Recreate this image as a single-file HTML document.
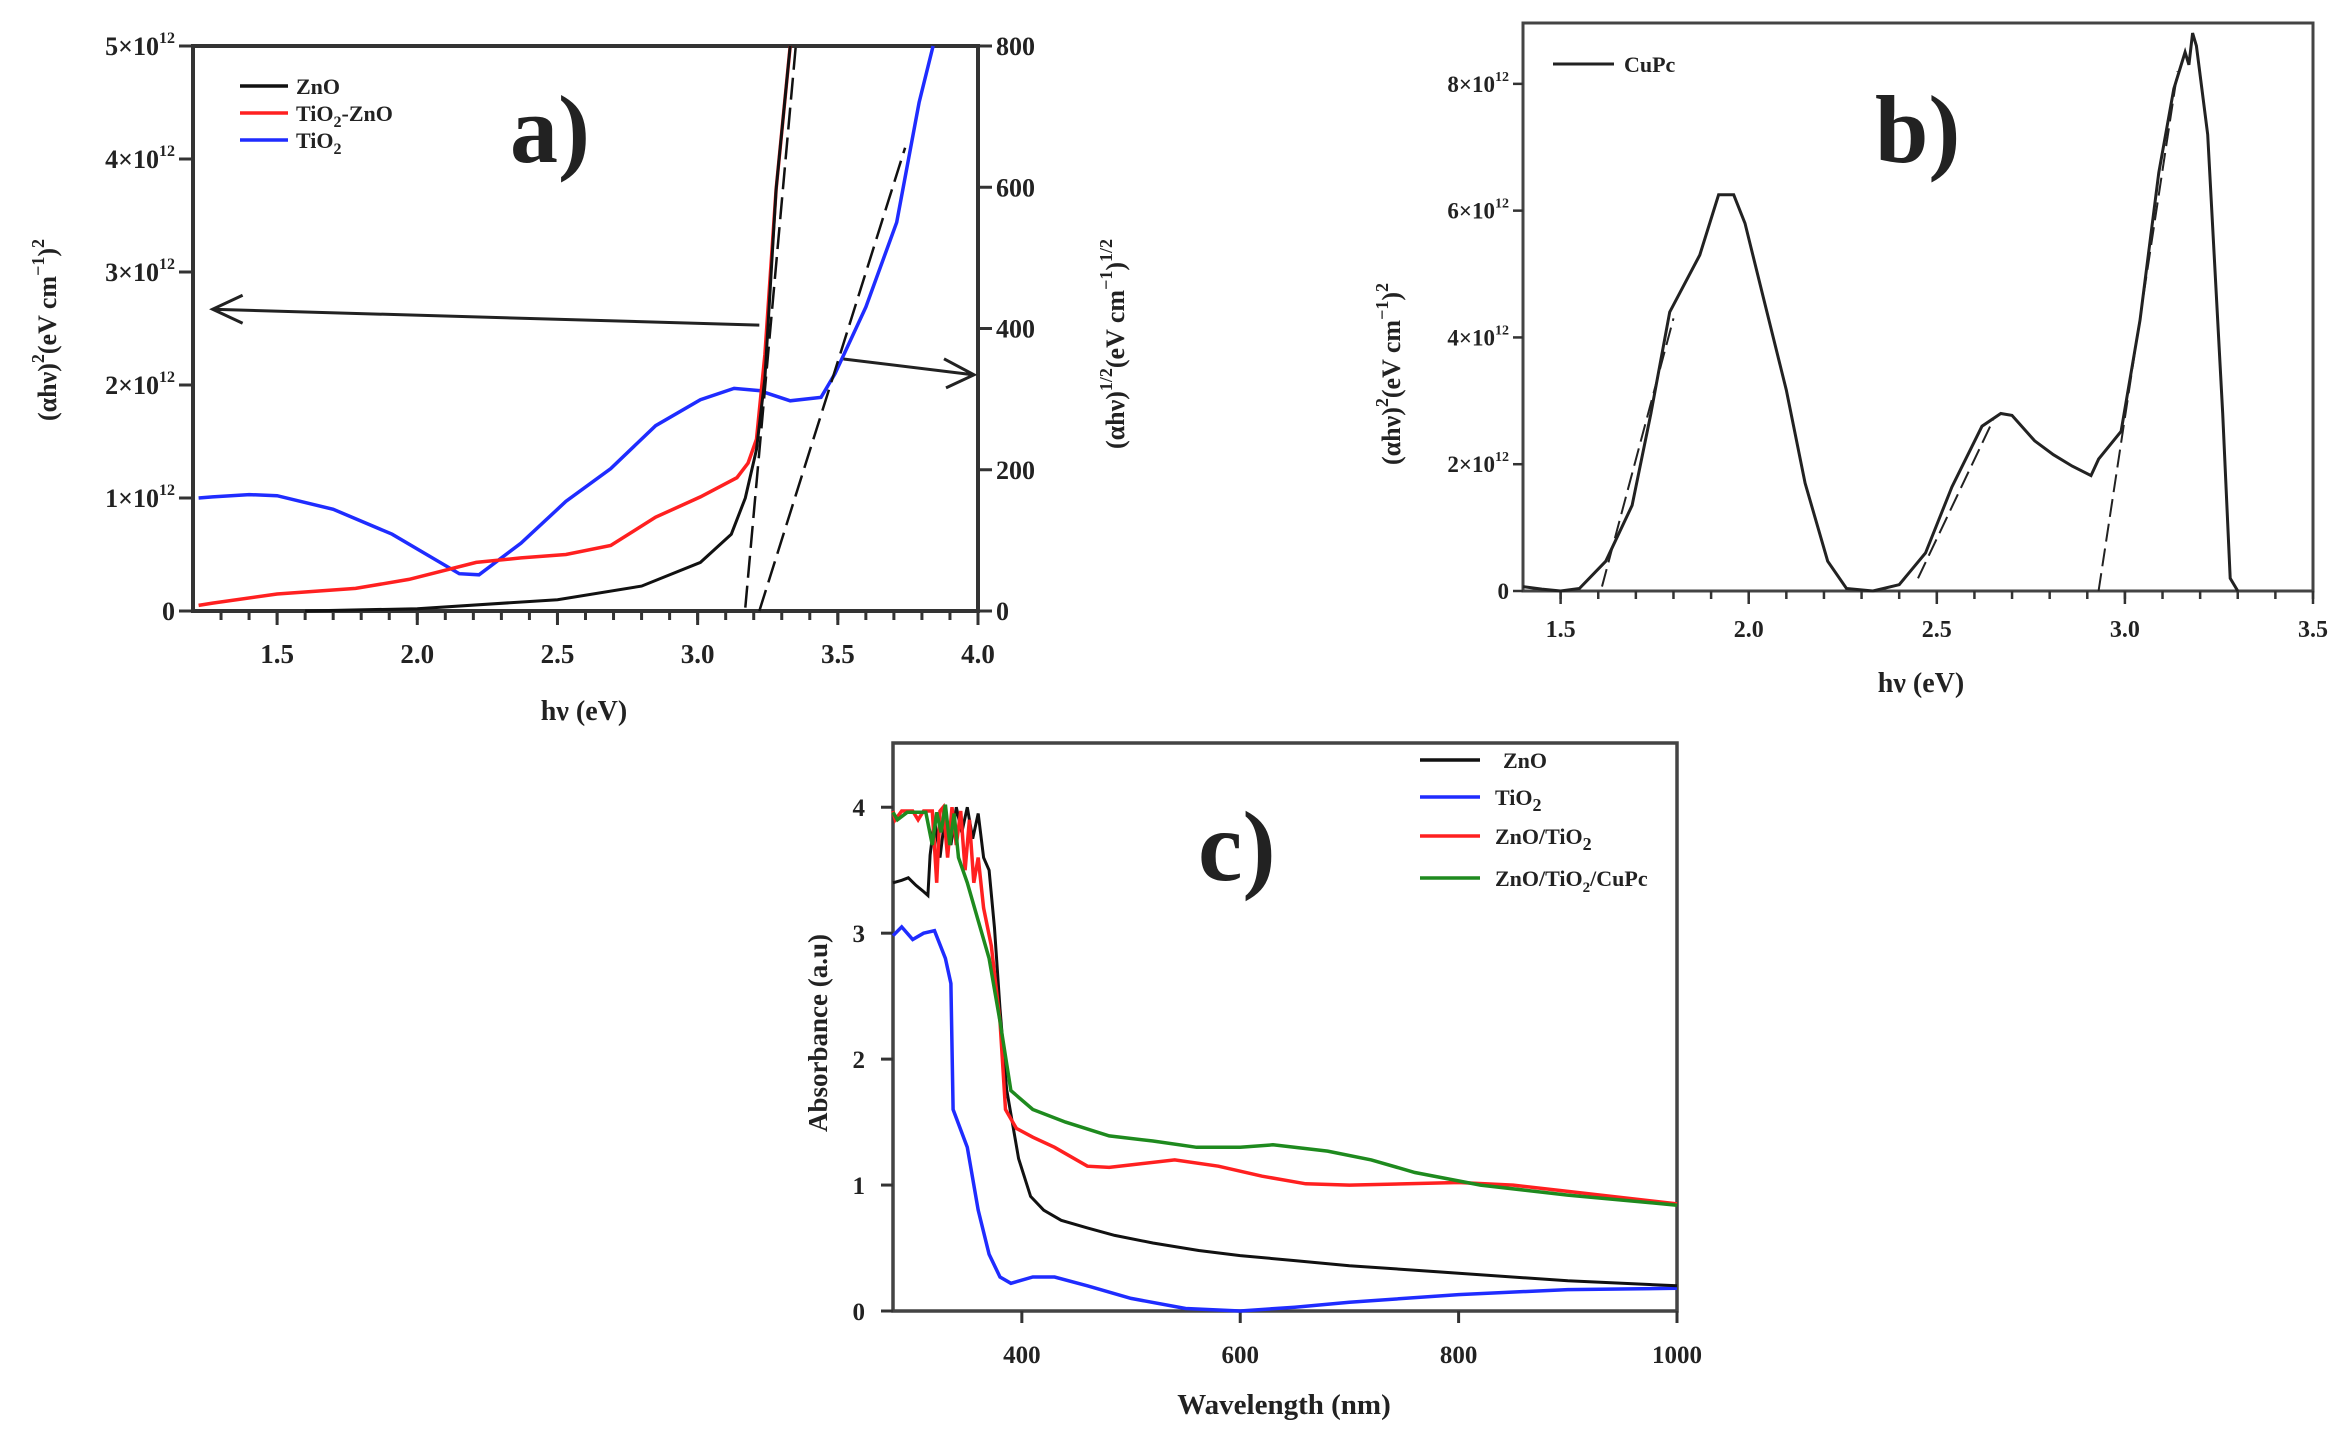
<!DOCTYPE html>
<html><head><meta charset="utf-8">
<style>
html,body{margin:0;padding:0;background:#fff;}
svg{display:block;}
text{font-family:"Liberation Serif",serif;font-weight:bold;fill:#222;}
</style></head>
<body>
<svg id="fig" width="2348" height="1443" viewBox="0 0 2348 1443" xmlns="http://www.w3.org/2000/svg"></svg>
<script>
// ---------- Panel a data (left-axis units of 1e12) ----------
const aZnOx = [1.6,2.0,2.5,2.8,3.01,3.12,3.17,3.21,3.24,3.28,3.33];
const aZnOy = [0,0.02,0.1,0.22,0.43,0.68,1.0,1.43,2.06,3.73,5.0];
const aMixx = [1.22,1.27,1.5,1.78,1.97,2.21,2.37,2.53,2.69,2.85,3.01,3.14,3.18,3.21,3.24,3.28,3.33];
const aMixy = [0.05,0.07,0.15,0.2,0.28,0.43,0.47,0.5,0.58,0.83,1.01,1.18,1.31,1.52,2.27,3.73,5.0];
const aTiox = [1.22,1.27,1.4,1.5,1.7,1.91,2.15,2.22,2.37,2.53,2.69,2.85,3.01,3.13,3.22,3.33,3.44,3.49,3.6,3.71,3.79,3.84];
const aTioy = [1.0,1.01,1.03,1.02,0.9,0.68,0.33,0.32,0.6,0.97,1.26,1.64,1.87,1.97,1.95,1.86,1.89,2.1,2.69,3.44,4.5,5.0];
const aXTicks = [1.5,2.0,2.5,3.0,3.5,4.0];
const aYTicks = [0,1,2,3,4,5];
const aRTicks = [0,200,400,600,800];
// ---------- Panel b data (units of 1e12) ----------
const bx = [1.4,1.45,1.5,1.55,1.62,1.69,1.74,1.79,1.87,1.92,1.96,1.99,2.04,2.1,2.15,2.21,2.26,2.33,2.4,2.47,2.54,2.62,2.67,2.7,2.76,2.81,2.86,2.91,2.93,2.99,3.04,3.09,3.13,3.16,3.17,3.18,3.19,3.22,3.26,3.28,3.3];
const by = [0.07,0.03,0,0.04,0.47,1.35,2.8,4.4,5.3,6.25,6.25,5.8,4.6,3.17,1.7,0.47,0.04,0,0.1,0.6,1.64,2.6,2.8,2.77,2.37,2.15,1.97,1.82,2.08,2.52,4.27,6.6,7.92,8.5,8.3,8.8,8.6,7.2,2.8,0.2,0];
const bXTicks = [1.5,2.0,2.5,3.0,3.5];
const bYTicks = [0,2,4,6,8];
// ---------- Panel c data ----------
const cZnOx = [282,290,296,303,310,314,316,320,325,330,335,340,345,350,355,360,365,370,375,380,386,397,408,420,436,460,485,520,562,600,650,700,800,900,1000];
const cZnOy = [3.4,3.42,3.44,3.38,3.33,3.3,3.62,3.9,3.6,3.95,3.7,4.0,3.8,4.0,3.75,3.95,3.6,3.5,3.04,2.4,1.76,1.21,0.91,0.8,0.72,0.66,0.6,0.54,0.48,0.44,0.4,0.36,0.3,0.24,0.2];
const cTiOx = [282,290,300,310,320,330,335,337,350,360,370,380,390,410,430,460,500,550,600,650,700,800,900,1000];
const cTiOy = [2.98,3.05,2.95,3.0,3.02,2.8,2.6,1.6,1.3,0.8,0.45,0.27,0.22,0.27,0.27,0.2,0.1,0.02,0.0,0.03,0.07,0.13,0.17,0.18];
const cMixx = [282,284,290,300,305,310,318,322,325,328,332,336,340,344,348,352,356,360,365,372,380,385,395,410,430,460,480,500,540,580,620,660,700,800,850,900,1000];
const cMixy = [3.97,3.9,3.97,3.97,3.9,3.97,3.97,3.4,3.97,4.0,3.6,4.0,3.7,3.97,3.5,3.9,3.4,3.6,3.2,2.9,2.3,1.6,1.45,1.38,1.3,1.15,1.14,1.16,1.2,1.15,1.07,1.01,1.0,1.02,1.0,0.95,0.85];
const cGrnx = [282,286,295,305,312,318,322,326,330,334,338,342,350,360,370,380,390,410,440,480,520,560,600,630,680,720,760,820,900,1000];
const cGrny = [3.96,3.9,3.96,3.96,3.96,3.7,3.96,3.8,4.02,3.7,3.95,3.6,3.4,3.1,2.8,2.3,1.75,1.6,1.5,1.39,1.35,1.3,1.3,1.32,1.27,1.2,1.1,1.0,0.92,0.84];
const cXTicks = [400,600,800,1000];
const cYTicks = [0,1,2,3,4];

const NS = "http://www.w3.org/2000/svg";
const svg = document.getElementById('fig');
function el(tag, attrs, parent){ const e=document.createElementNS(NS,tag); for(const k in attrs) e.setAttribute(k,attrs[k]); (parent||svg).appendChild(e); return e; }
function lin(d0,d1,r0,r1){ return v => r0 + (v-d0)/(d1-d0)*(r1-r0); }
function pathOf(xs,ys,sx,sy){ return xs.map((x,i)=>(i?'L':'M')+sx(x).toFixed(1)+','+sy(ys[i]).toFixed(1)).join(' '); }

// ================= Panel a =================
const aL=193,aR=978,aT=46,aB=611;
const ax = lin(1.2,4.0,aL,aR), ay = lin(0,5,aB,aT), ayR = lin(0,800,aB,aT);
const gA = el('g',{});


el('rect',{x:aL,y:aT,width:aR-aL,height:aB-aT,fill:'none',stroke:'#333','stroke-width':4},gA);
for(let v=1.3; v<=4.001; v+=0.1){ const X=ax(v); el('line',{x1:X,y1:aB,x2:X,y2:aB+9,stroke:'#333','stroke-width':3},gA); }
aXTicks.forEach(v=>{ const X=ax(v); el('line',{x1:X,y1:aB,x2:X,y2:aB+14,stroke:'#333','stroke-width':3},gA);
  const t=el('text',{x:X,y:aB+52,'font-size':27,'text-anchor':'middle'},gA); t.textContent=v.toFixed(1);
    });
aYTicks.forEach(v=>{ const Y=ay(v); el('line',{x1:aL-14,y1:Y,x2:aL,y2:Y,stroke:'#333','stroke-width':3},gA);
  const t=el('text',{x:aL-18,y:Y+9,'font-size':26,'text-anchor':'end'},gA);
  if(v===0){ t.textContent='0'; } else { t.textContent=v+'×10'; const s=el('tspan',{dy:-12,'font-size':16},t); s.textContent='12'; }
    });
aRTicks.forEach(v=>{ const Y=ayR(v); el('line',{x1:aR,y1:Y,x2:aR+14,y2:Y,stroke:'#333','stroke-width':3},gA);
  const t=el('text',{x:aR+18,y:Y+9,'font-size':26},gA); t.textContent=v;
    });
let p;
p=el('path',{d:pathOf(aTiox,aTioy,ax,ay),fill:'none',stroke:'#1f2cff','stroke-width':3.5},gA);
 
p=el('path',{d:pathOf(aMixx,aMixy,ax,ay),fill:'none',stroke:'#ff2020','stroke-width':3.5},gA);
 
p=el('path',{d:pathOf(aZnOx,aZnOy,ax,ay),fill:'none',stroke:'#111','stroke-width':3},gA);
 
p=el('line',{x1:ax(3.17),y1:ay(0.03),x2:ax(3.35),y2:ay(5),stroke:'#111','stroke-width':2.5,'stroke-dasharray':'22,8'},gA);
 
p=el('line',{x1:ax(3.22),y1:ay(0),x2:ax(3.74),y2:ay(4.1),stroke:'#111','stroke-width':2.5,'stroke-dasharray':'22,8'},gA);
 
p=el('path',{d:`M${ax(3.22)},${ay(2.53)} L${ax(1.27)},${ay(2.67)} M${ax(1.27)+30},${ay(2.67)-14} L${ax(1.27)},${ay(2.67)} L${ax(1.27)+30},${ay(2.67)+14}`,fill:'none',stroke:'#222','stroke-width':3},gA);
 
p=el('path',{d:`M${ax(3.52)},${ay(2.23)} L${aR-4},${ay(2.09)} M${aR-34},${ay(2.09)-16} L${aR-4},${ay(2.09)} L${aR-32},${ay(2.09)+13}`,fill:'none',stroke:'#222','stroke-width':3},gA);
 
[['ZnO','#111'],['TiO2-ZnO','#ff2020'],['TiO2','#1f2cff']].forEach((e,i)=>{
  const Y=86+i*27;
  const l=el('line',{x1:240,y1:Y,x2:288,y2:Y,stroke:e[1],'stroke-width':3.5},gA);
   
  const t=el('text',{x:296,y:Y+8,'font-size':22},gA);
   
  if(i===0) t.textContent='ZnO';
  else if(i===1){ t.textContent='TiO'; const s=el('tspan',{dy:6,'font-size':16},t); s.textContent='2'; const s2=el('tspan',{dy:-6},t); s2.textContent='-ZnO'; }
  else { t.textContent='TiO'; const s=el('tspan',{dy:6,'font-size':16},t); s.textContent='2'; }
});
let t;
t=el('text',{x:510,y:162,'font-size':96,'font-family':'"Liberation Sans",sans-serif'},gA); t.textContent='a)';
 
t=el('text',{x:584,y:720,'font-size':28,'text-anchor':'middle'},gA); t.textContent='hν (eV)';
 
t=el('text',{x:0,y:0,'font-size':26,'text-anchor':'middle',transform:'translate(56,330) rotate(-90)'},gA);
t.innerHTML='(αhν)<tspan dy="-12" font-size="18">2</tspan><tspan dy="12">(eV cm</tspan><tspan dy="-12" font-size="18">−1</tspan><tspan dy="12">)</tspan><tspan dy="-12" font-size="18">2</tspan>';
 
t=el('text',{x:0,y:0,'font-size':26,'text-anchor':'middle',transform:'translate(1124,344) rotate(-90)'},gA);
t.innerHTML='(αhν)<tspan dy="-12" font-size="18">1/2</tspan><tspan dy="12">(eV cm</tspan><tspan dy="-12" font-size="18">−1</tspan><tspan dy="12">)</tspan><tspan dy="-12" font-size="18">1/2</tspan>';
 

// ================= Panel b =================
const bL=1523,bR=2313,bT=23,bB=591;
const bxs = lin(1.4,3.5,bL,bR), bys = lin(0,8.96,bB,bT);
const gB = el('g',{});


el('rect',{x:bL,y:bT,width:bR-bL,height:bB-bT,fill:'none',stroke:'#444','stroke-width':3},gB);
for(let v=1.5; v<=3.501; v+=0.1){ const X=bxs(v); el('line',{x1:X,y1:bB,x2:X,y2:bB+8,stroke:'#333','stroke-width':2.5},gB); }
bXTicks.forEach(v=>{ const X=bxs(v); el('line',{x1:X,y1:bB,x2:X,y2:bB+13,stroke:'#333','stroke-width':2.5},gB);
  const t=el('text',{x:X,y:bB+46,'font-size':24,'text-anchor':'middle'},gB); t.textContent=v.toFixed(1);
    });
bYTicks.forEach(v=>{ const Y=bys(v); el('line',{x1:bL-10,y1:Y,x2:bL,y2:Y,stroke:'#333','stroke-width':2.5},gB);
  const t=el('text',{x:bL-14,y:Y+8,'font-size':23,'text-anchor':'end'},gB);
  if(v===0){ t.textContent='0'; } else { t.textContent=v+'×10'; const s=el('tspan',{dy:-11,'font-size':14},t); s.textContent='12'; }
    });
p=el('path',{d:pathOf(bx,by,bxs,bys),fill:'none',stroke:'#222','stroke-width':3},gB);
 
[[1.61,0.07,1.8,4.3],[2.45,0.2,2.65,2.7],[2.93,0.0,3.14,8.2]].forEach(f=>{
  const l=el('line',{x1:bxs(f[0]),y1:bys(f[1]),x2:bxs(f[2]),y2:bys(f[3]),stroke:'#222','stroke-width':2,'stroke-dasharray':'18,7'},gB);
    });
p=el('line',{x1:1553,y1:64,x2:1614,y2:64,stroke:'#222','stroke-width':3},gB);
 
t=el('text',{x:1624,y:72,'font-size':22},gB); t.textContent='CuPc';
 
t=el('text',{x:1875,y:162,'font-size':96,'font-family':'"Liberation Sans",sans-serif'},gB); t.textContent='b)';
 
t=el('text',{x:1921,y:692,'font-size':28,'text-anchor':'middle','font-weight':'normal'},gB); t.textContent='hν (eV)';
 
t=el('text',{x:0,y:0,'font-size':26,'text-anchor':'middle',transform:'translate(1400,374) rotate(-90)'},gB);
t.innerHTML='(αhν)<tspan dy="-12" font-size="18">2</tspan><tspan dy="12">(eV cm</tspan><tspan dy="-12" font-size="18">−1</tspan><tspan dy="12">)</tspan><tspan dy="-12" font-size="18">2</tspan>';
 

// ================= Panel c =================
const cL=893,cR=1677,cT=743,cB=1311;
const cxs = lin(282,1000,cL,cR), cys = lin(0,4.51,cB,cT);
const gC = el('g',{});


el('rect',{x:cL,y:cT,width:cR-cL,height:cB-cT,fill:'none',stroke:'#444','stroke-width':3.5},gC);
cXTicks.forEach(v=>{ const X=cxs(v); el('line',{x1:X,y1:cB,x2:X,y2:cB+12,stroke:'#333','stroke-width':3},gC);
  const t=el('text',{x:X,y:cB+52,'font-size':25,'text-anchor':'middle'},gC); t.textContent=v;
    });
cYTicks.forEach(v=>{ const Y=cys(v); el('line',{x1:cL-12,y1:Y,x2:cL,y2:Y,stroke:'#333','stroke-width':3},gC);
  const t=el('text',{x:cL-28,y:Y+9,'font-size':25,'text-anchor':'end'},gC); t.textContent=v;
    });
p=el('path',{d:pathOf(cTiOx,cTiOy,cxs,cys),fill:'none',stroke:'#1f2cff','stroke-width':3.5},gC);
 
p=el('path',{d:pathOf(cZnOx,cZnOy,cxs,cys),fill:'none',stroke:'#111','stroke-width':3},gC);
 
p=el('path',{d:pathOf(cMixx,cMixy,cxs,cys),fill:'none',stroke:'#ff2020','stroke-width':3.5},gC);
 
p=el('path',{d:pathOf(cGrnx,cGrny,cxs,cys),fill:'none',stroke:'#1e8a1e','stroke-width':3.5},gC);
 
[['ZnO','#111',''],['TiO','#1f2cff','2'],['ZnO/TiO','#ff2020','2'],['ZnO/TiO','#1e8a1e','2/CuPc']].forEach((e,i)=>{
  const Y=[760,797,836,878][i];
  const l=el('line',{x1:1420,y1:Y,x2:1480,y2:Y,stroke:e[1],'stroke-width':3.5},gC);
   
  const t=el('text',{x:i===0?1503:1495,y:Y+8,'font-size':22,'font-weight':'normal'},gC);
   
  t.textContent=e[0];
  if(i===3){ const s=el('tspan',{dy:6,'font-size':15},t); s.textContent='2'; const s2=el('tspan',{dy:-6},t); s2.textContent='/CuPc'; }
  else if(e[2]){ const s=el('tspan',{dy:6,'font-size':18},t); s.textContent='2'; }
});
t=el('text',{x:1198,y:880,'font-size':100,'font-family':'"Liberation Sans",sans-serif'},gC); t.textContent='c)';
 
t=el('text',{x:1284,y:1414,'font-size':29,'text-anchor':'middle'},gC); t.textContent='Wavelength (nm)';
 
t=el('text',{x:0,y:0,'font-size':27,'text-anchor':'middle',transform:'translate(827,1033) rotate(-90)'},gC); t.textContent='Absorbance (a.u)';
 
</script>
</body></html>
